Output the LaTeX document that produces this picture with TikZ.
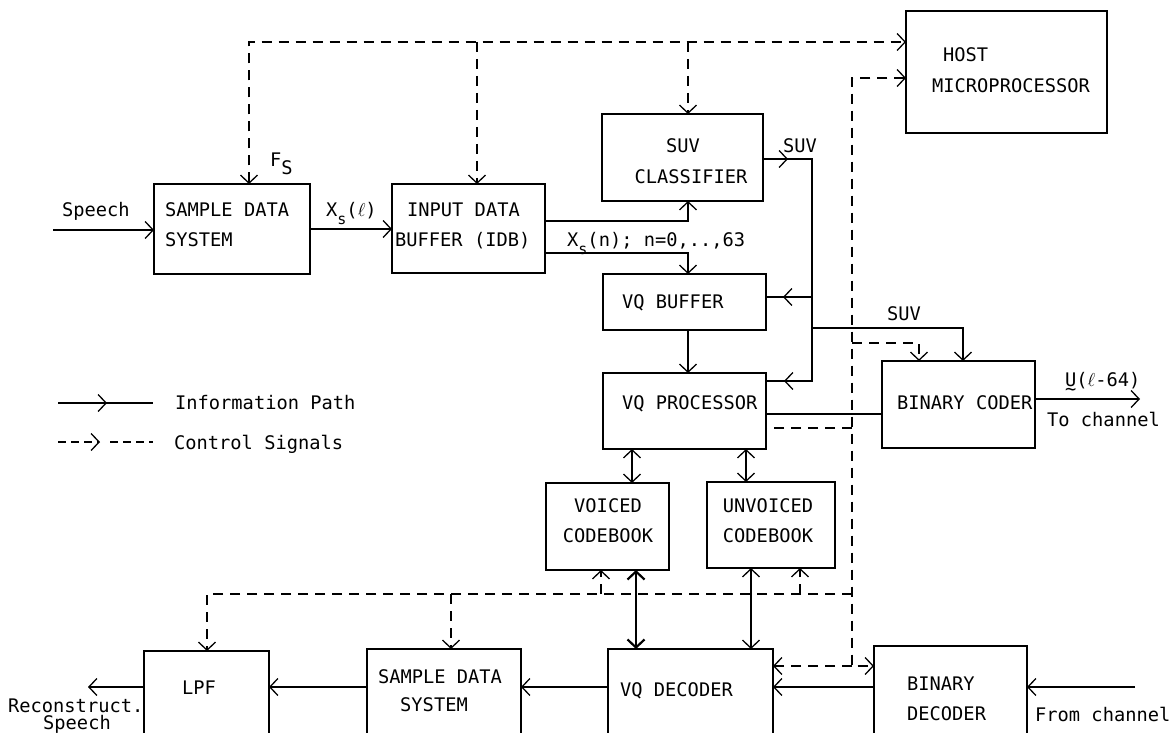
\RequirePackage{fix-cm}
\documentclass[tikz,border=0pt]{standalone}
\usepackage{amsmath}
\usepackage{fontspec}
\newfontfamily\lblfont{DejaVu Sans Mono}
\usetikzlibrary{arrows.meta,decorations.markings}
\tikzset{
  box/.style={draw, line width=1.4pt, inner sep=0pt, outer sep=0pt, anchor=north west},
  txt/.style={inner sep=0pt, anchor=base west},
  ctxt/.style={inner sep=0pt, anchor=base},
  info/.style={line width=1.3pt},
  ctrl/.style={line width=1.3pt, dash pattern=on 10pt off 7pt},
  lgctrl/.style={line width=1.3pt, dash pattern=on 8pt off 5pt},
  >={Straight Barb[length=8pt,width=17pt]},
  midarr/.style={postaction={decorate, decoration={markings,
      mark=at position #1 with {\arrow{Straight Barb[length=8pt,width=17pt]}}}}},
  midarrb/.style={postaction={decorate, decoration={markings,
      mark=at position #1 with {\arrow{Straight Barb[length=8pt,width=17pt]}}}}}
}
\newcommand{\subs}[1]{\raisebox{-8pt}{\fontsize{15}{15}\selectfont #1}}
\begin{document}
\begin{tikzpicture}[x=1pt, y=-1pt, font=\lblfont\fontsize{18.7}{22}\selectfont]
\useasboundingbox (0,0) rectangle (1171,733);
\clip (0,0) rectangle (1171,733);

% ---------- boxes ----------
\node[box, minimum width=156pt, minimum height=90pt] (sdsA) at (154,184) {};
\node[box, minimum width=153pt, minimum height=89pt] (idb)  at (392,184) {};
\node[box, minimum width=161pt, minimum height=87pt] (suv)  at (602,114) {};
\node[box, minimum width=201pt, minimum height=122pt] (host) at (906,11) {};
\node[box, minimum width=163pt, minimum height=56pt] (vqb)  at (603,274) {};
\node[box, minimum width=163pt, minimum height=76pt] (vqp)  at (603,373) {};
\node[box, minimum width=153pt, minimum height=87pt] (bc)   at (882,361) {};
\node[box, minimum width=123pt, minimum height=87pt] (vcb)  at (546,483) {};
\node[box, minimum width=128pt, minimum height=86pt] (ucb)  at (707,482) {};
\node[box, minimum width=125pt, minimum height=100pt] (lpf)  at (144,651) {};
\node[box, minimum width=154pt, minimum height=100pt] (sdsB) at (367,649) {};
\node[box, minimum width=165pt, minimum height=100pt] (vqd)  at (608,649) {};
\node[box, minimum width=153pt, minimum height=100pt] (bd)   at (874,646) {};

% ---------- box texts ----------
\node[txt] (tsdsA1) at (165,217) {SAMPLE DATA};
\node[txt] (tsdsA2) at (165,247) {SYSTEM};
\node[txt] (tidb1) at (407,217) {INPUT DATA};
\node[txt] (tidb2) at (395,247) {BUFFER (IDB)};
\node[ctxt] (tsuv1) at (683,153) {SUV};
\node[ctxt] (tsuv2) at (691,184) {CLASSIFIER};
\node[txt] (thost1) at (943,62) {HOST};
\node[txt] (thost2) at (932,93) {MICROPROCESSOR};
\node[txt] (tvqb) at (622,308) {VQ BUFFER};
\node[txt] (tvqp) at (622,409) {VQ PROCESSOR};
\node[txt] (tbc) at (897,409) {BINARY CODER};
\node[ctxt] (tvcb1) at (608,512) {VOICED};
\node[ctxt] (tvcb2) at (608,542) {CODEBOOK};
\node[ctxt] (tucb1) at (768,512) {UNVOICED};
\node[ctxt] (tucb2) at (768,542) {CODEBOOK};
\node[txt] (tlpf) at (182,694) {LPF};
\node[ctxt] (tsdsB1) at (440,683) {SAMPLE DATA};
\node[ctxt] (tsdsB2) at (434,711) {SYSTEM};
\node[txt] (tvqd) at (620,696) {VQ DECODER};
\node[txt] (tbd1) at (907,690) {BINARY};
\node[txt] (tbd2) at (907,720) {DECODER};

% ---------- labels ----------
\node[txt] (lspeech) at (62,217) {Speech};
\node[txt] (lfs) at (270,167) {F\raisebox{-8pt}{S}};
\node[txt] (lxsl) at (326,217) {X\subs{s}(\ensuremath{\ell})};
\node[txt] (lxsn) at (567,247) {X\subs{s}(n); n=0,..,63};
\node[txt] (lsuv1) at (783,153) {SUV};
\node[txt] (lsuv2) at (887,320) {SUV};
\node[txt] (lu) at (1065,386) {\rlap{\raisebox{-9pt}{\char"7E}}U(\ensuremath{\ell}-64)};
\node[txt] (ltoch) at (1047,426) {To channel};
\node[txt] (lfrch) at (1035,721) {From channel};
\node[txt] (lrec) at (8,712) {Reconstruct.};
\node[ctxt] (lrsp) at (77,729) {Speech};
\node[txt] (linfo) at (175,409) {Information Path};
\node[txt] (lctrl) at (174,449) {Control Signals};

% ---------- information paths ----------
\coordinate (spIn) at (53,230);
\draw[info,->] (spIn) -- (spIn -| sdsA.west);
\draw[info,->] (sdsA.east) -- (sdsA.east -| idb.west);

\coordinate (jA) at (688,221);
\draw[info,->] (jA -| idb.east) -- (jA) -- (jA |- suv.south);
\coordinate (jB) at (688,253);
\draw[info,->] (jB -| idb.east) -- (jB) -- (jB |- vqb.north);
\draw[info,->] (jB |- vqb.south) -- (jB |- vqp.north);

\coordinate (sv1) at (812,159);
\coordinate (sv2) at (812,381);
\draw[info, midarr=25pt, midarrb=-18pt] (sv1 -| suv.east) -- (sv1) -- (sv2) -- (sv2 -| vqp.east);
\coordinate (sv3) at (812,297);
\draw[info, midarr=29pt] (sv3) -- (sv3 -| vqb.east);
\coordinate (sv4) at (812,328);
\coordinate (sv5) at (963,328);
\draw[info,->] (sv4) -- (sv5) -- (sv5 |- bc.north);

\coordinate (pb) at (700,414);
\draw[info] (pb -| vqp.east) -- (pb -| bc.west);
\coordinate (chOut) at (1140,399);
\draw[info,->] (chOut -| bc.east) -- (chOut);

\coordinate (c1) at (632,460);
\draw[info,<->] (c1 |- vqp.south) -- (c1 |- vcb.north);
\coordinate (c2) at (746,460);
\draw[info,<->] (c2 |- vqp.south) -- (c2 |- ucb.north);
\coordinate (c3) at (636,610);
\draw[line width=2.2pt,<->] (c3 |- vcb.south) -- (c3 |- vqd.north);
\coordinate (c4) at (751,610);
\draw[info,<->] (c4 |- ucb.south) -- (c4 |- vqd.north);

\coordinate (bl) at (500,687);
\draw[info,->] (bl -| vqd.west) -- (bl -| sdsB.east);
\draw[info,->] (bl -| sdsB.west) -- (bl -| lpf.east);
\coordinate (rsOut) at (88,687);
\draw[info,->] (bl -| lpf.west) -- (rsOut);
\draw[info,->] (bl -| bd.west) -- (bl -| vqd.east);
\coordinate (fcIn) at (1135,687);
\draw[info,->] (fcIn) -- (fcIn -| bd.east);

% ---------- control signals ----------
\coordinate (t1) at (249,42);
\coordinate (t2) at (477,42);
\coordinate (t3) at (688,42);
\draw[ctrl,<->] (t1 |- sdsA.north) -- (t1) -- (t1 -| host.west);
\draw[ctrl,->] (t2) -- (t2 |- idb.north);
\draw[ctrl,->] (t3) -- (t3 |- suv.north);

\coordinate (s1) at (852,78);
\coordinate (s2) at (852,666);
\draw[ctrl,<->] (s1 -| host.west) -- (s1) -- (s2) -- (s2 -| bd.west);
\draw[ctrl,->] (s2) -- (s2 -| vqd.east);
\coordinate (s3) at (852,343);
\coordinate (s4) at (919,343);
\draw[ctrl,->] (s3) -- (s4) -- (s4 |- bc.north);
\coordinate (s5) at (852,428);
\draw[ctrl] (s5) -- (s5 -| vqp.east);
\coordinate (s6) at (852,594);
\coordinate (s7) at (207,594);
\draw[ctrl,->] (s6) -- (s7) -- (s7 |- lpf.north);
\coordinate (s8) at (451,594);
\draw[ctrl,->] (s8) -- (s8 |- sdsB.north);
\coordinate (s9) at (800,594);
\draw[ctrl,->] (s9) -- (s9 |- ucb.south);
\coordinate (s10) at (601,594);
\draw[ctrl,->] (s10) -- (s10 |- vcb.south);

% ---------- legend ----------
\coordinate (lg1) at (58,403);
\coordinate (lg2) at (153,403);
\draw[info, midarr=49pt] (lg1) -- (lg2);
\coordinate (lg3) at (58,442);
\coordinate (lg4) at (100,442);
\coordinate (lg5) at (110,442);
\coordinate (lg6) at (153,442);
\draw[lgctrl,->] (lg3) -- (lg4);
\draw[lgctrl] (lg5) -- (lg6);
\end{tikzpicture}
\end{document}
